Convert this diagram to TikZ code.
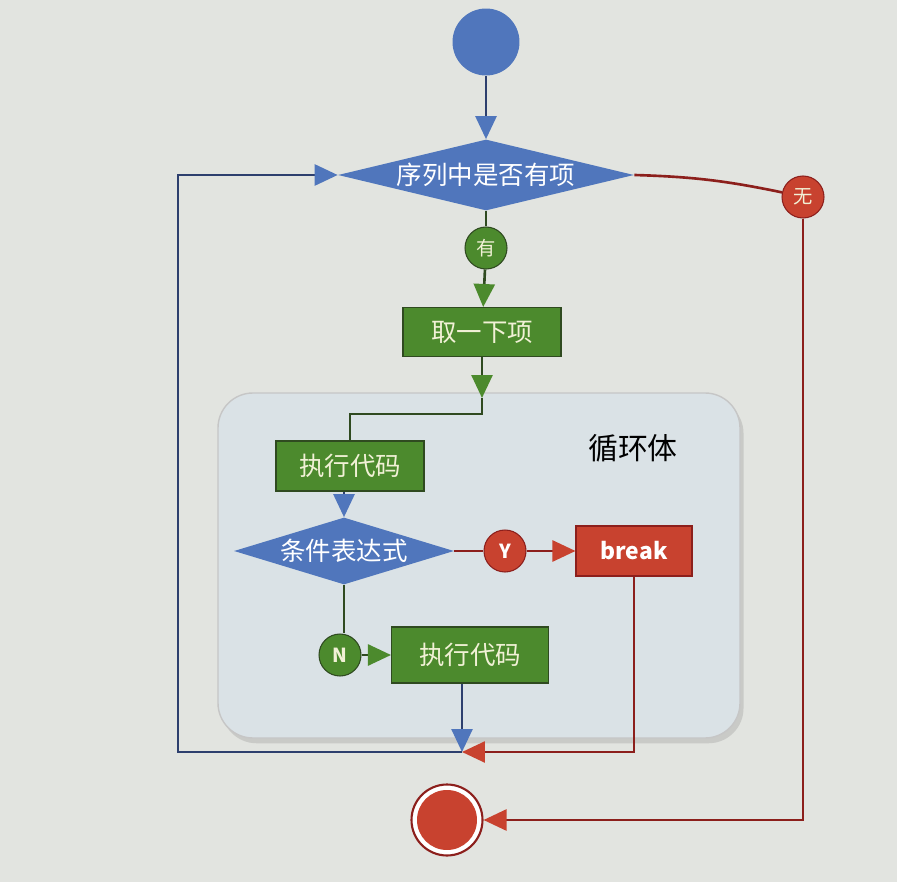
\documentclass[tikz,border=0pt]{standalone}
\usepackage{fontspec}
\newfontfamily\cjkfont{Noto Sans CJK SC}
\usepackage{tikz}
\usetikzlibrary{arrows.meta, shapes.geometric, shadows}

\definecolor{paper}{HTML}{E2E4E0}
\definecolor{bodyfill}{HTML}{DAE2E6}
\definecolor{flowblue}{HTML}{5076BC}
\definecolor{lineblue}{HTML}{2D3F6E}
\definecolor{flowgreen}{HTML}{4C8A2D}
\definecolor{linegreen}{HTML}{2F4A20}
\definecolor{flowred}{HTML}{C8422F}
\definecolor{linered}{HTML}{8C1F1C}
\definecolor{paletext}{HTML}{F1F1D6}

\tikzset{
  my line style/.style={
    line width=1.5pt,        % default line thickness
  },
  blue arrow/.style={my line style, draw=lineblue,
    -{Triangle[length=4.6mm, width=4.2mm, color=flowblue]}},
  green arrow/.style={my line style, draw=linegreen,
    -{Triangle[length=4.6mm, width=4.2mm, color=flowgreen]}},
  red arrow/.style={my line style, draw=linered,
    -{Triangle[length=4.6mm, width=4.2mm, color=flowred]}},
  green line/.style={my line style, draw=linegreen},
  red line/.style={my line style, draw=linered},
  decision box/.style={diamond, fill=flowblue, text=white, inner sep=0pt,
    font=\cjkfont\fontsize{14.5}{16}\selectfont},
  process box/.style={rectangle, fill=flowgreen, draw=linegreen, line width=0.6pt,
    text=paletext, font=\cjkfont\fontsize{14.5}{16}\selectfont},
  tag circle/.style={circle, minimum size=0.84cm, inner sep=0pt, line width=0.6pt,
    font=\cjkfont\fontsize{11}{12}\selectfont},
  stop circle/.style={circle, fill=white, draw=linered, line width=1.2pt,
    minimum size=1.42cm,
    path picture={\fill[flowred] (path picture bounding box.center) circle (0.6cm);}},
}

\begin{document}
\begin{tikzpicture}[x=0.02cm, y=-0.02cm]
    % Page background, fixes the picture size
    \fill[paper] (0,0) rectangle (897,882);

    % Loop body container
    \draw[fill=bodyfill, draw=gray!45, line width=0.8pt, rounded corners=0.7cm,
      drop shadow={shadow xshift=2pt, shadow yshift=-3pt, opacity=0.25}]
      (218,393) rectangle (740,738);
    \node[font=\cjkfont\fontsize{17}{20}\selectfont] (bodylabel) at (633,448) {循环体};

    % Top part: start, test, take item
    \node[circle, fill=flowblue, minimum size=1.34cm] (start) at (486,42) {};
    \node[decision box, minimum width=5.92cm, minimum height=1.42cm, aspect=4.2]
      (seq) at (486,175) {序列中是否有项};
    \node[tag circle, fill=flowgreen, draw=linegreen, text=paletext] (has) at (486,248) {有};
    \node[process box, minimum width=3.16cm, minimum height=0.98cm] (take) at (482,332) {取一下项};
    \node[tag circle, fill=flowred, draw=linered, text=paletext] (none) at (803,197) {无};

    % Inside the loop body
    \node[process box, minimum width=2.96cm, minimum height=1.0cm] (exec1) at (350,466) {执行代码};
    \node[decision box, minimum width=4.4cm, minimum height=1.34cm, aspect=3.3]
      (cond) at (344,551) {条件表达式};
    \node[tag circle, fill=flowred, draw=linered, text=white,
      font=\cjkfont\bfseries\fontsize{11}{12}\selectfont] (yes) at (505,551) {Y};
    \node[process box, fill=flowred, draw=linered, text=white, font=\cjkfont\bfseries\fontsize{13}{15}\selectfont,
      minimum width=2.32cm, minimum height=1.0cm] (brk) at (634,551) {break};
    \node[tag circle, fill=flowgreen, draw=linegreen, text=paletext,
      font=\cjkfont\bfseries\fontsize{11}{12}\selectfont] (no) at (340,655) {N};
    \node[process box, minimum width=3.14cm, minimum height=1.12cm] (exec2) at (470,655) {执行代码};

    % End
    \node[stop circle] (stop) at (447,820) {};

    % Helper points
    \coordinate (takeout) at (482,398);
    \coordinate (merge) at (462,752);
    \coordinate (loopcorner) at (178,752);

    % Main flow
    \draw[blue arrow] (start) -- (seq);
    \draw[green line] (seq.south) -- (has);
    \draw[green arrow] (has) -- (take);
    \draw[green arrow] (take.south) -- (takeout);
    \draw[green line] (takeout) -- ++(0,16) -| (exec1.north);
    \draw[blue arrow] (exec1.south -| cond.north) -- (cond.north);

    % Branches of the condition
    \draw[red line] (cond.east) -- (yes);
    \draw[red arrow] (yes) -- (brk);
    \draw[green line] (cond.south) -- (cond.south |- no.north);
    \draw[green arrow] (no) -- (exec2);

    % Back to the test, or out of the loop
    \draw[blue arrow] (exec2.south -| merge) -- (merge);
    \draw[red arrow] (brk.south) |- (merge);
    \draw[blue arrow] (merge) -- (loopcorner) |- (seq.west);
    \draw[red line] (seq.east) to[bend left=5] (none);
    \draw[red arrow] (none) |- (stop);
\end{tikzpicture}
\end{document}
